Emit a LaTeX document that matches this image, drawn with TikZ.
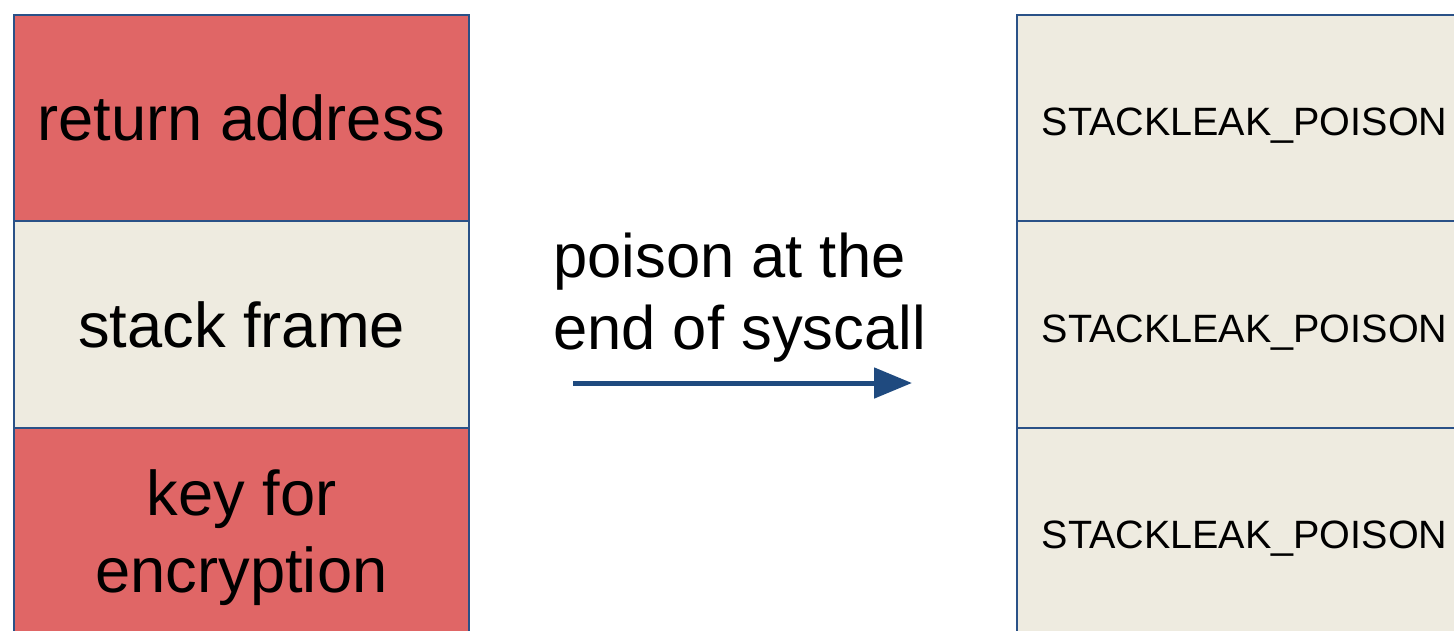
\documentclass[tikz,border=0pt]{standalone}
\usepackage{fontspec}
\setmainfont{Liberation Sans}
\usetikzlibrary{arrows.meta, positioning}

\definecolor{keyred}{HTML}{E06666}
\definecolor{framebeige}{HTML}{EEEBE0}
\definecolor{edgeblue}{HTML}{2A5187}
\definecolor{arrowblue}{HTML}{1F4A7F}

\begin{document}
\begin{tikzpicture}[
    x = 0.02cm, y = -0.02cm,
    slot/.style = {rectangle, draw=edgeblue, line width=1.1pt, outer sep=0pt,
                   minimum width=9.1cm, minimum height=4.13cm, align=center},
    redslot/.style = {slot, fill=keyred, font=\fontsize{36pt}{44pt}\selectfont},
    plainslot/.style = {slot, fill=framebeige, font=\fontsize{36pt}{44pt}\selectfont},
    poisonslot/.style = {slot, fill=framebeige, text height=20pt, text depth=0pt,
                         font=\fontsize{22.5pt}{26pt}\selectfont},
    arrow/.style = {-{Triangle[length=0.76cm, width=0.6cm]}, line width=2.85pt, draw=arrowblue}
]

\clip (0,0) rectangle (1454,630);

% Stack before the syscall returns
\node[redslot] (ret) at (241.5,118) {return address};
\node[plainslot, below=0pt of ret] (frame) {stack frame};
\node[redslot, text depth=0pt, below=0pt of frame] (key) {key for\\encryption};

% Stack after it is poisoned
\node[poisonslot] (poisona) at (1244.5,118) {STACKLEAK\_POISON};
\node[poisonslot, below=0pt of poisona] (poisonb) {STACKLEAK\_POISON};
\node[poisonslot, below=0pt of poisonb] (poisonc) {STACKLEAK\_POISON};

% Label and arrow
\node[anchor=west, align=left, inner sep=0pt, font=\fontsize{35pt}{41pt}\selectfont]
    (note) at (553,298) {poison at the\\end of syscall};
\coordinate (from) at (573,383);
\coordinate (to) at (912,383);
\draw[arrow] (from) -- (to);

\end{tikzpicture}
\end{document}
